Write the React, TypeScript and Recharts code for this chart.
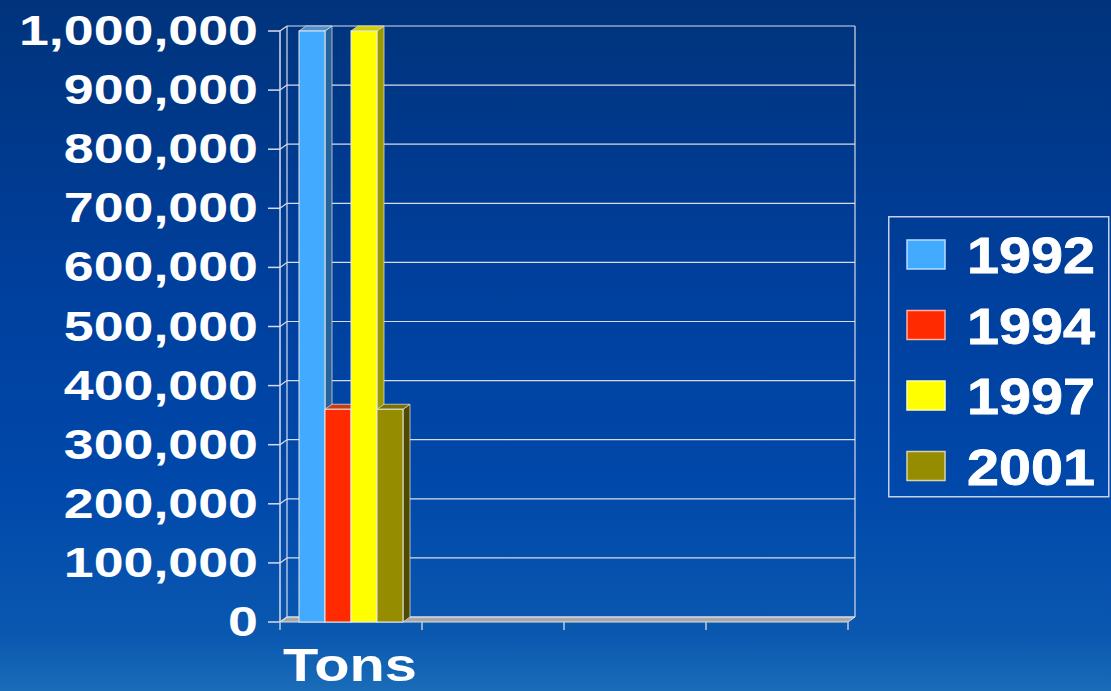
import { BarChart, Bar, XAxis, YAxis, CartesianGrid, Legend } from "recharts";

// values (tons)
const categories = ["Tons", " ", "  ", "   "];
const series1992 = [1000000, null, null, null];
const series1994 = [360000, null, null, null];
const series1997 = [1000000, null, null, null];
const series2001 = [360000, null, null, null];
const yTicks = [0, 100000, 200000, 300000, 400000, 500000, 600000, 700000, 800000, 900000, 1000000];

const data = categories.map((name, i) => ({
  name,
  y1992: series1992[i],
  y1994: series1994[i],
  y1997: series1997[i],
  y2001: series2001[i],
}));

const W = 1111;
const H = 691;
const LEFT = 280;
const RIGHT = 848;
const TOP = 31;
const BOTTOM = 622;
// depth of the fake 3d
const DX = 7;
const DY = -5;
const BAND = (RIGHT - LEFT) / categories.length;

const palette: Record<string, { front: string; side: string; top: string; edge: string }> = {
  y1992: { front: "#42aaff", side: "#27629a", top: "#4f8fd0", edge: "#b8dcff" },
  y1994: { front: "#ff2a00", side: "#a01a00", top: "#cc3a10", edge: "#ffb0a0" },
  y1997: { front: "#ffff00", side: "#999900", top: "#d0d000", edge: "#ffffb0" },
  y2001: { front: "#968c00", side: "#4f4a00", top: "#7a7200", edge: "#d8d4a0" },
};

const bars = [
  { key: "y1992", label: "1992" },
  { key: "y1994", label: "1994" },
  { key: "y1997", label: "1997" },
  { key: "y2001", label: "2001" },
];

const font = "'Liberation Sans', Arial, sans-serif";

function Box3D(props: any) {
  const { x, y, width, height, seriesKey } = props;
  if (!height || height <= 0) return null;
  const c = palette[seriesKey];
  const r = x + width;
  const b = y + height;
  return (
    <g>
      <polygon
        points={`${r},${y} ${r + DX},${y + DY} ${r + DX},${b + DY} ${r},${b}`}
        fill={c.side}
        stroke="#d8d8d8"
        strokeWidth={0.8}
      />
      <polygon
        points={`${x},${y} ${x + DX},${y + DY} ${r + DX},${y + DY} ${r},${y}`}
        fill={c.top}
        stroke="#d8d8d8"
        strokeWidth={0.8}
      />
      <rect x={x} y={y} width={width} height={height} fill={c.front} stroke="#e8e8e8" strokeWidth={1} />
    </g>
  );
}

function WallLine(props: any) {
  const { x1, y1, x2 } = props;
  const isFloor = Math.abs(y1 - BOTTOM) < 1;
  return (
    <g key={props.key}>
      {isFloor && (
        <polygon
          points={`${x1},${y1} ${x1 + DX},${y1 + DY} ${x2 + DX},${y1 + DY} ${x2},${y1}`}
          fill="#a8a8a8"
          stroke="#e0e0e0"
          strokeWidth={1}
        />
      )}
      <line x1={x1} y1={y1} x2={x1 + DX} y2={y1 + DY} stroke="#d8dcea" strokeWidth={1.2} />
      <line x1={x1 + DX} y1={y1 + DY} x2={x2 + DX} y2={y1 + DY} stroke="#d8dcea" strokeWidth={1.2} />
    </g>
  );
}

function WallEdge(props: any) {
  const { x1, y1, y2 } = props;
  return <line key={props.key} x1={x1 + DX} y1={y1 + DY} x2={x1 + DX} y2={y2 + DY} stroke="#d8dcea" strokeWidth={1.2} />;
}

function YTick(props: any) {
  const { x, y, payload } = props;
  return (
    <g transform={`translate(${x},${y}) scale(1.28,1)`}>
      <text x={0} y={0} dy={14} textAnchor="end" fill="#ffffff" fontFamily={font} fontWeight="bold" fontSize={42}>
        {Number(payload.value).toLocaleString("en-US")}
      </text>
    </g>
  );
}

// ticks sit on the category boundaries, label in the middle
function XTick(props: any) {
  const { x, payload, index } = props;
  const label = String(payload.value).trim();
  const left = x - BAND / 2;
  const last = index === categories.length - 1;
  return (
    <g>
      <line x1={left} y1={BOTTOM} x2={left} y2={BOTTOM + 8} stroke="#c0c8dc" strokeWidth={1.5} />
      {last && <line x1={x + BAND / 2} y1={BOTTOM} x2={x + BAND / 2} y2={BOTTOM + 8} stroke="#c0c8dc" strokeWidth={1.5} />}
      {label && (
        <g transform={`translate(${x - 1},681) scale(1.23,1)`}>
          <text x={0} y={0} textAnchor="middle" fill="#ffffff" fontFamily={font} fontWeight="bold" fontSize={47}>
            {label}
          </text>
        </g>
      )}
    </g>
  );
}

function LegendBox(props: any) {
  const payload = props.payload || [];
  return (
    <svg width={222} height={282} style={{ display: "block" }}>
      <rect x={0.75} y={0.75} width={220} height={280} fill="none" stroke="#c8d0e8" strokeWidth={1.5} />
      {payload.map((entry: any, i: number) => {
        const c = palette[entry.dataKey];
        const cy = 39 + i * 70.5;
        return (
          <g key={entry.value}>
            <rect x={19} y={cy - 15} width={38} height={29} fill={c.front} stroke={c.edge} strokeWidth={1.5} />
            <g transform={`translate(79,${cy + 18}) scale(1.15,1)`}>
              <text x={0} y={0} fill="#ffffff" fontFamily={font} fontWeight={900} fontSize={50} stroke="#ffffff" strokeWidth={0.8}>
                {entry.value}
              </text>
            </g>
          </g>
        );
      })}
    </svg>
  );
}

export default function App() {
  return (
    <div
      style={{
        position: "relative",
        width: W,
        height: H,
        background: "linear-gradient(to bottom, #00337b 0%, #003f9c 40%, #0048aa 70%, #0a58b0 92%, #1a6cb8 100%)",
        overflow: "hidden",
      }}
    >
      <style>{`body{margin:0}`}</style>
      <BarChart
        width={W}
        height={H}
        data={data}
        margin={{ top: TOP, right: W - RIGHT, bottom: 0, left: 0 }}
        barGap={0}
        barSize={26}
      >
        <CartesianGrid
          horizontal={WallLine}
          vertical={WallEdge}
          verticalPoints={[LEFT, RIGHT]}
          fill="none"
        />
        <XAxis
          dataKey="name"
          height={H - BOTTOM}
          axisLine={false}
          tickLine={false}
          tick={<XTick />}
          interval={0}
        />
        <YAxis
          width={LEFT}
          domain={[0, 1000000]}
          ticks={yTicks}
          interval={0}
          axisLine={{ stroke: "#d8dcea", strokeWidth: 1.5 }}
          tickLine={{ stroke: "#d8dcea", strokeWidth: 1.5 }}
          tickSize={12}
          tickMargin={10}
          tick={<YTick />}
        />
        <Legend
          layout="vertical"
          align="center"
          verticalAlign="middle"
          content={<LegendBox />}
          wrapperStyle={{ position: "absolute", left: 888, top: 216, width: 222, height: 282 }}
        />
        {bars.map((b) => (
          <Bar
            key={b.key}
            dataKey={b.key}
            name={b.label}
            fill={palette[b.key].front}
            shape={<Box3D seriesKey={b.key} />}
            isAnimationActive={false}
          />
        ))}
      </BarChart>
    </div>
  );
}
